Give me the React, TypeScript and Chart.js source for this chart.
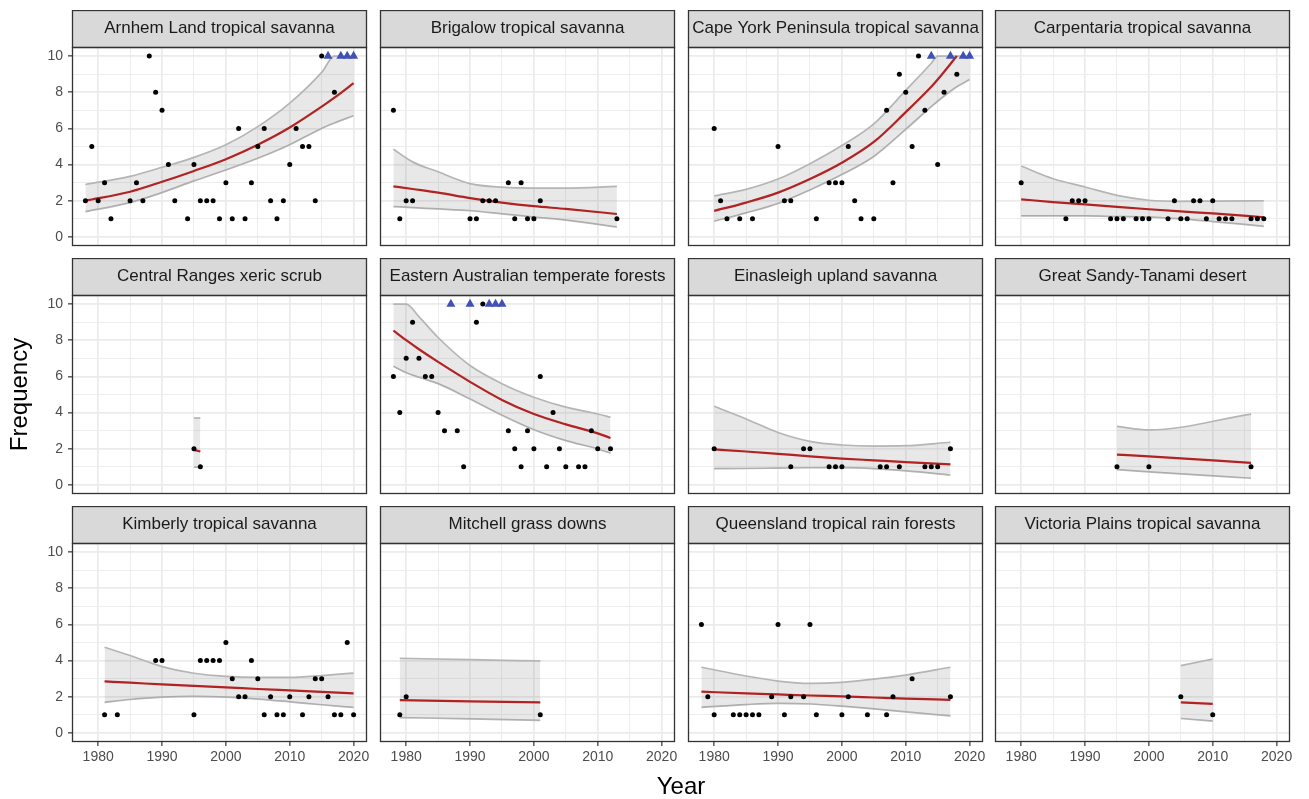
import React, { useEffect, useRef } from 'react';
import { Chart, registerables } from 'chart.js';

Chart.register(...registerables);

const FONT = "'Liberation Sans', Arial, Helvetica, sans-serif";

const regionNames = [
  'Arnhem Land tropical savanna',
  'Brigalow tropical savanna',
  'Cape York Peninsula tropical savanna',
  'Carpentaria tropical savanna',
  'Central Ranges xeric scrub',
  'Eastern Australian temperate forests',
  'Einasleigh upland savanna',
  'Great Sandy-Tanami desert',
  'Kimberly tropical savanna',
  'Mitchell grass downs',
  'Queensland tropical rain forests',
  'Victoria Plains tropical savanna',
];

const xTickValues = [1980, 1985, 1990, 1995, 2000, 2005, 2010, 2015, 2020];
const xTickLabels = [1980, 1990, 2000, 2010, 2020];
const yTickValues = [0, 1, 2, 3, 4, 5, 6, 7, 8, 9, 10];
const yTickLabels = [0, 2, 4, 6, 8, 10];
const X_MIN = 1975.9;
const X_MAX = 2022.1;
const Y_MIN = -0.5;
const Y_MAX = 10.5;
const CAP = 10; // counts shown as triangles at the top of the panel

// ---- Arnhem Land tropical savanna
const p1Years = [1978, 1979, 1980, 1981, 1982, 1985, 1986, 1987, 1988, 1989, 1990, 1991, 1992, 1994, 1995, 1996, 1997, 1998, 1999, 2000, 2001, 2002, 2003, 2004, 2005, 2006, 2007, 2008, 2009, 2010, 2011, 2012, 2013, 2014, 2015, 2017];
const p1Counts = [2, 5, 2, 3, 1, 2, 3, 2, 10, 8, 7, 4, 2, 1, 4, 2, 2, 2, 1, 3, 1, 6, 1, 3, 5, 6, 2, 1, 2, 4, 6, 5, 5, 2, 10, 8];
const p1Capped = [2016, 2018, 2019, 2020];
const p1FitYears = [1978, 1985, 1990, 1995, 2000, 2005, 2010, 2015, 2017, 2020];
const p1Fit = [2.0, 2.5, 3.05, 3.65, 4.3, 5.1, 6.05, 7.2, 7.7, 8.5];
const p1Lo = [1.4, 1.9, 2.45, 3.1, 3.7, 4.35, 5.1, 6.0, 6.3, 6.7];
const p1Hi = [2.9, 3.35, 3.85, 4.4, 5.1, 6.1, 7.4, 9.1, 10, 10];

// ---- Brigalow tropical savanna
const p2Years = [1978, 1979, 1980, 1981, 1990, 1991, 1992, 1993, 1994, 1996, 1997, 1998, 1999, 2000, 2001, 2013];
const p2Counts = [7, 1, 2, 2, 1, 1, 2, 2, 2, 3, 1, 3, 1, 1, 2, 1];
const p2Capped: number[] = [];
const p2FitYears = [1978, 1981, 1985, 1990, 1995, 2000, 2005, 2013];
const p2Fit = [2.8, 2.65, 2.45, 2.15, 1.9, 1.7, 1.55, 1.27];
const p2Lo = [1.68, 1.62, 1.55, 1.45, 1.28, 1.1, 0.93, 0.55];
const p2Hi = [4.85, 4.15, 3.6, 2.95, 2.75, 2.7, 2.7, 2.8];

// ---- Cape York Peninsula tropical savanna
const p3Years = [1980, 1981, 1982, 1984, 1986, 1990, 1991, 1992, 1996, 1998, 1999, 2000, 2001, 2002, 2003, 2005, 2007, 2008, 2009, 2010, 2011, 2012, 2013, 2015, 2016, 2018];
const p3Counts = [6, 2, 1, 1, 1, 5, 2, 2, 1, 3, 3, 3, 5, 2, 1, 1, 7, 3, 9, 8, 5, 10, 7, 4, 8, 9];
const p3Capped = [2014, 2017, 2019, 2020];
const p3FitYears = [1980, 1985, 1990, 1995, 2000, 2005, 2010, 2014, 2015, 2018, 2020];
const p3Fit = [1.44, 1.9, 2.45, 3.2, 4.1, 5.25, 6.9, 8.3, 8.7, 10, null];
const p3Lo = [0.87, 1.33, 1.85, 2.6, 3.45, 4.45, 5.95, 7.2, 7.5, 8.3, 8.7];
const p3Hi = [2.27, 2.63, 3.2, 4.05, 5.05, 6.25, 8.1, 9.6, 10, 10, 10];

// ---- Carpentaria tropical savanna
const p4Years = [1980, 1987, 1988, 1989, 1990, 1994, 1995, 1996, 1998, 1999, 2000, 2003, 2004, 2005, 2006, 2007, 2008, 2009, 2010, 2011, 2012, 2013, 2016, 2017, 2018];
const p4Counts = [3, 1, 2, 2, 2, 1, 1, 1, 1, 1, 1, 1, 2, 1, 1, 2, 2, 1, 2, 1, 1, 1, 1, 1, 1];
const p4Capped: number[] = [];
const p4FitYears = [1980, 1985, 1990, 1995, 2000, 2005, 2010, 2018];
const p4Fit = [2.08, 1.93, 1.8, 1.66, 1.53, 1.41, 1.3, 1.09];
const p4Lo = [1.16, 1.16, 1.16, 1.13, 1.1, 1.0, 0.85, 0.59];
const p4Hi = [3.92, 3.22, 2.76, 2.3, 2.03, 1.97, 1.98, 2.0];

// ---- Central Ranges xeric scrub
const p5Years = [1995, 1996];
const p5Counts = [2, 1];
const p5Capped: number[] = [];
const p5FitYears = [1995, 1996];
const p5Fit = [1.94, 1.85];
const p5Lo = [0.98, 0.98];
const p5Hi = [3.7, 3.7];

// ---- Eastern Australian temperate forests
const p6Years = [1978, 1979, 1980, 1981, 1982, 1983, 1984, 1985, 1986, 1988, 1989, 1991, 1992, 1996, 1997, 1998, 1999, 2000, 2001, 2002, 2003, 2004, 2005, 2007, 2008, 2009, 2010, 2012];
const p6Counts = [6, 4, 7, 9, 7, 6, 6, 4, 3, 3, 1, 9, 10, 3, 2, 1, 3, 2, 6, 1, 4, 2, 1, 1, 1, 3, 2, 2];
const p6Capped = [1987, 1990, 1993, 1994, 1995];
const p6FitYears = [1978, 1980, 1982, 1985, 1990, 1995, 2000, 2005, 2010, 2012];
const p6Fit = [8.53, 8.0, 7.5, 6.8, 5.7, 4.7, 3.92, 3.35, 2.85, 2.6];
const p6Lo = [6.56, 6.2, 5.95, 5.6, 4.75, 3.85, 3.05, 2.45, 1.99, 1.75];
const p6Hi = [10, 10, 9.3, 8.15, 6.6, 5.6, 4.85, 4.3, 3.92, 3.74];

// ---- Einasleigh upland savanna
const p7Years = [1980, 1992, 1994, 1995, 1998, 1999, 2000, 2006, 2007, 2009, 2013, 2014, 2015, 2017];
const p7Counts = [2, 1, 2, 2, 1, 1, 1, 1, 1, 1, 1, 1, 1, 2];
const p7Capped: number[] = [];
const p7FitYears = [1980, 1985, 1990, 1995, 2000, 2005, 2010, 2017];
const p7Fit = [1.97, 1.85, 1.72, 1.58, 1.46, 1.36, 1.26, 1.14];
const p7Lo = [0.9, 0.91, 0.93, 0.95, 0.96, 0.9, 0.78, 0.55];
const p7Hi = [4.35, 3.65, 2.9, 2.41, 2.21, 2.15, 2.17, 2.36];

// ---- Great Sandy-Tanami desert
const p8Years = [1995, 2000, 2016];
const p8Counts = [1, 1, 1];
const p8Capped: number[] = [];
const p8FitYears = [1995, 2000, 2016];
const p8Fit = [1.68, 1.58, 1.22];
const p8Lo = [0.85, 0.72, 0.37];
const p8Hi = [3.24, 3.04, 3.92];

// ---- Kimberly tropical savanna
const p9Years = [1981, 1983, 1989, 1990, 1995, 1996, 1997, 1998, 1999, 2000, 2001, 2002, 2003, 2004, 2005, 2006, 2007, 2008, 2009, 2010, 2012, 2013, 2014, 2015, 2016, 2017, 2018, 2019, 2020];
const p9Counts = [1, 1, 4, 4, 1, 4, 4, 4, 4, 5, 3, 2, 2, 4, 3, 1, 2, 1, 1, 2, 1, 2, 3, 3, 2, 1, 1, 5, 1];
const p9Capped: number[] = [];
const p9FitYears = [1981, 1985, 1990, 1995, 2000, 2005, 2010, 2015, 2020];
const p9Fit = [2.85, 2.78, 2.68, 2.6, 2.52, 2.43, 2.35, 2.27, 2.19];
const p9Lo = [1.69, 1.85, 1.98, 2.02, 1.98, 1.87, 1.72, 1.56, 1.41];
const p9Hi = [4.74, 4.28, 3.67, 3.3, 3.13, 3.07, 3.07, 3.17, 3.31];

// ---- Mitchell grass downs
const p10Years = [1979, 1980, 2001];
const p10Counts = [1, 2, 1];
const p10Capped: number[] = [];
const p10FitYears = [1979, 1990, 2001];
const p10Fit = [1.81, 1.75, 1.69];
const p10Lo = [0.85, 0.78, 0.7];
const p10Hi = [4.13, 4.05, 3.98];

// ---- Queensland tropical rain forests
const p11Years = [1978, 1979, 1980, 1983, 1984, 1985, 1986, 1987, 1989, 1990, 1991, 1992, 1994, 1995, 1996, 2000, 2001, 2004, 2007, 2008, 2011, 2017];
const p11Counts = [6, 2, 1, 1, 1, 1, 1, 1, 2, 6, 1, 2, 2, 6, 1, 1, 2, 1, 1, 2, 3, 2];
const p11Capped: number[] = [];
const p11FitYears = [1978, 1985, 1990, 1995, 2000, 2005, 2010, 2017];
const p11Fit = [2.28, 2.19, 2.13, 2.07, 2.02, 1.96, 1.9, 1.83];
const p11Lo = [1.41, 1.57, 1.64, 1.6, 1.48, 1.33, 1.17, 0.94];
const p11Hi = [3.63, 3.15, 2.87, 2.74, 2.8, 2.98, 3.2, 3.63];

// ---- Victoria Plains tropical savanna
const p12Years = [2005, 2010];
const p12Counts = [2, 1];
const p12Capped: number[] = [];
const p12FitYears = [2005, 2010];
const p12Fit = [1.69, 1.61];
const p12Lo = [0.8, 0.65];
const p12Hi = [3.72, 4.09];

type PanelData = {
  years: number[];
  counts: number[];
  capped: number[];
  fitYears: number[];
  fit: (number | null)[];
  lo: number[];
  hi: number[];
};

const panels: PanelData[] = [
  { years: p1Years, counts: p1Counts, capped: p1Capped, fitYears: p1FitYears, fit: p1Fit, lo: p1Lo, hi: p1Hi },
  { years: p2Years, counts: p2Counts, capped: p2Capped, fitYears: p2FitYears, fit: p2Fit, lo: p2Lo, hi: p2Hi },
  { years: p3Years, counts: p3Counts, capped: p3Capped, fitYears: p3FitYears, fit: p3Fit, lo: p3Lo, hi: p3Hi },
  { years: p4Years, counts: p4Counts, capped: p4Capped, fitYears: p4FitYears, fit: p4Fit, lo: p4Lo, hi: p4Hi },
  { years: p5Years, counts: p5Counts, capped: p5Capped, fitYears: p5FitYears, fit: p5Fit, lo: p5Lo, hi: p5Hi },
  { years: p6Years, counts: p6Counts, capped: p6Capped, fitYears: p6FitYears, fit: p6Fit, lo: p6Lo, hi: p6Hi },
  { years: p7Years, counts: p7Counts, capped: p7Capped, fitYears: p7FitYears, fit: p7Fit, lo: p7Lo, hi: p7Hi },
  { years: p8Years, counts: p8Counts, capped: p8Capped, fitYears: p8FitYears, fit: p8Fit, lo: p8Lo, hi: p8Hi },
  { years: p9Years, counts: p9Counts, capped: p9Capped, fitYears: p9FitYears, fit: p9Fit, lo: p9Lo, hi: p9Hi },
  { years: p10Years, counts: p10Counts, capped: p10Capped, fitYears: p10FitYears, fit: p10Fit, lo: p10Lo, hi: p10Hi },
  { years: p11Years, counts: p11Counts, capped: p11Capped, fitYears: p11FitYears, fit: p11Fit, lo: p11Lo, hi: p11Hi },
  { years: p12Years, counts: p12Counts, capped: p12Capped, fitYears: p12FitYears, fit: p12Fit, lo: p12Lo, hi: p12Hi },
];

// layout (pixels)
const STRIP_H = 37;
const PLOT_W = 295;
const PLOT_H = 199;
const RPAD = 22;
const colLeft = [72, 380, 688, 995];
const rowTop = [47, 295, 543];

const GRID = '#ebebeb';
const DARK = '#333333';

const facetFrame = {
  id: 'facetFrame',
  beforeDraw(chart: any) {
    const { ctx, chartArea: a } = chart;
    ctx.save();
    ctx.fillStyle = '#d9d9d9';
    ctx.fillRect(a.left, a.top - STRIP_H, a.right - a.left, STRIP_H);
    ctx.restore();
  },
  afterDraw(chart: any) {
    const { ctx, chartArea: a } = chart;
    ctx.save();
    ctx.strokeStyle = DARK;
    ctx.lineWidth = 1.3;
    ctx.strokeRect(a.left + 0.5, a.top - STRIP_H + 0.5, a.right - a.left - 1, STRIP_H);
    ctx.strokeRect(a.left + 0.5, a.top + 0.5, a.right - a.left - 1, a.bottom - a.top - 1);
    ctx.restore();
  },
};

function Panel({ index }: { index: number }) {
  const ref = useRef<HTMLCanvasElement | null>(null);
  const r = Math.floor(index / 4);
  const c = index % 4;
  const lpad = c === 0 ? 72 : 2;
  const xh = r === 2 ? 32 : 2;
  const padB = r < 2 && c === 0 ? 16 : 0;
  const w = lpad + PLOT_W + RPAD;
  const h = STRIP_H + PLOT_H + xh + padB;
  const left = colLeft[c] - lpad;
  const top = rowTop[r] - STRIP_H;

  useEffect(() => {
    const p = panels[index];
    const pts = p.years.map((x, i) => ({ x, y: p.counts[i] }));
    const capped = p.capped.map((x) => ({ x, y: CAP }));
    const fit = p.fitYears
      .map((x, i) => ({ x, y: p.fit[i] }))
      .filter((d) => d.y !== null);
    const hi = p.fitYears.map((x, i) => ({ x, y: p.hi[i] }));
    const lo = p.fitYears.map((x, i) => ({ x, y: p.lo[i] }));

    const chart = new Chart(ref.current as HTMLCanvasElement, {
      type: 'line',
      data: {
        datasets: [
          {
            data: pts as any,
            showLine: false,
            pointRadius: 2.5,
            pointHoverRadius: 2.5,
            pointBackgroundColor: '#000000',
            pointBorderWidth: 0,
            fill: false,
          },
          {
            data: capped as any,
            showLine: false,
            pointStyle: 'triangle',
            pointRadius: 5.2,
            pointHoverRadius: 5.2,
            pointBackgroundColor: '#3f51b5',
            pointBorderWidth: 0,
            fill: false,
          },
          {
            data: fit as any,
            borderColor: '#b22222',
            borderWidth: 2.2,
            pointRadius: 0,
            cubicInterpolationMode: 'monotone',
            fill: false,
          },
          {
            data: hi as any,
            borderColor: '#b5b5b5',
            borderWidth: 1.7,
            pointRadius: 0,
            cubicInterpolationMode: 'monotone',
            fill: '+1',
            backgroundColor: 'rgba(120,120,120,0.17)',
          },
          {
            data: lo as any,
            borderColor: '#b5b5b5',
            borderWidth: 1.7,
            pointRadius: 0,
            cubicInterpolationMode: 'monotone',
            fill: false,
          },
        ],
      },
      options: {
        animation: false,
        responsive: false,
        events: [],
        layout: { autoPadding: false, padding: { left: 0, top: 0, right: RPAD, bottom: padB } },
        plugins: {
          legend: { display: false },
          tooltip: { enabled: false },
          title: {
            display: true,
            text: regionNames[index],
            fullSize: false,
            position: 'top',
            padding: { top: 8.3, bottom: 8.3 },
            color: '#1a1a1a',
            font: { family: FONT, size: 17, weight: 'normal', lineHeight: 1.2 },
          },
        },
        scales: {
          x: {
            type: 'linear',
            min: X_MIN,
            max: X_MAX,
            afterBuildTicks: (s: any) => {
              s.ticks = xTickValues.map((v) => ({ value: v }));
            },
            afterFit: (s: any) => {
              s.height = xh;
            },
            ticks: {
              display: r === 2,
              autoSkip: false,
              maxRotation: 0,
              minRotation: 0,
              padding: 3,
              color: '#4d4d4d',
              font: { family: FONT, size: 14 },
              callback: (v: any) => (xTickLabels.includes(Number(v)) ? String(v) : ''),
            },
            grid: {
              color: GRID,
              lineWidth: (ctx: any) => (ctx.tick && ctx.tick.value % 10 === 0 ? 1.7 : 0.9),
              drawTicks: r === 2,
              tickLength: 4,
              tickWidth: 1.2,
              tickColor: (ctx: any) => (ctx.tick && ctx.tick.value % 10 === 0 ? DARK : 'rgba(0,0,0,0)'),
            },
            border: { display: false },
          },
          y: {
            type: 'linear',
            min: Y_MIN,
            max: Y_MAX,
            afterBuildTicks: (s: any) => {
              s.ticks = yTickValues.map((v) => ({ value: v }));
            },
            afterFit: (s: any) => {
              s.width = lpad;
            },
            title: {
              display: c === 0 && r === 1,
              text: 'Frequency',
              color: '#000000',
              padding: { top: 6, bottom: 0 },
              font: { family: FONT, size: 24, weight: 'normal' },
            },
            ticks: {
              display: c === 0,
              autoSkip: false,
              padding: 5,
              color: '#4d4d4d',
              font: { family: FONT, size: 14 },
              callback: (v: any) => (yTickLabels.includes(Number(v)) ? String(v) : ''),
            },
            grid: {
              color: GRID,
              lineWidth: (ctx: any) => (ctx.tick && ctx.tick.value % 2 === 0 ? 1.7 : 0.9),
              drawTicks: c === 0,
              tickLength: 4,
              tickWidth: 1.2,
              tickColor: (ctx: any) => (ctx.tick && ctx.tick.value % 2 === 0 ? DARK : 'rgba(0,0,0,0)'),
            },
            border: { display: false },
          },
        },
      } as any,
      plugins: [facetFrame],
    });
    return () => chart.destroy();
  }, [index]);

  return (
    <canvas
      ref={ref}
      width={w}
      height={h}
      style={{ position: 'absolute', left, top, width: w, height: h }}
    />
  );
}

export default function App() {
  return (
    <div
      style={{
        position: 'absolute',
        left: 0,
        top: 0,
        width: 1309,
        height: 799,
        background: '#ffffff',
        overflow: 'hidden',
      }}
    >
      {panels.map((_, i) => (
        <Panel key={i} index={i} />
      ))}
      <div
        style={{
          position: 'absolute',
          left: 581,
          width: 200,
          top: 772,
          textAlign: 'center',
          fontFamily: FONT,
          fontSize: 24,
          lineHeight: '28px',
          color: '#000000',
        }}
      >
        Year
      </div>
    </div>
  );
}
